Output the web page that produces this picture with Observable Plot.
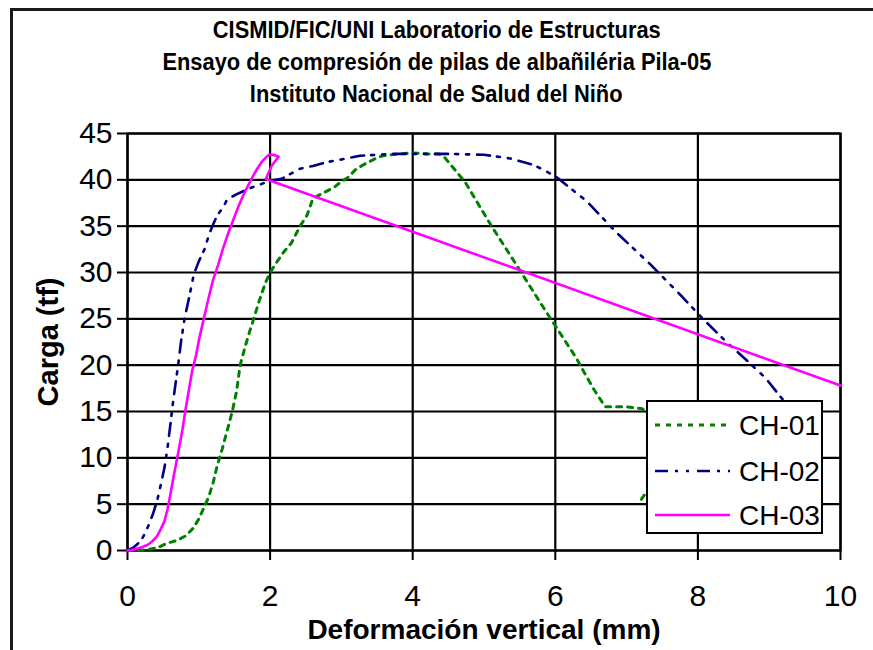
<!DOCTYPE html>
<html><head><meta charset="utf-8">
<script src="https://cdn.jsdelivr.net/npm/d3@7"></script>
<script src="https://cdn.jsdelivr.net/npm/@observablehq/plot@0.6"></script>
<style>
html,body{margin:0;padding:0;background:#fff;}
body{width:873px;height:650px;overflow:hidden;position:relative;font-family:"Liberation Sans",Arial,Helvetica,sans-serif;}
#frame{position:absolute;left:10px;top:8px;width:900px;height:700px;border:3px solid #1a1a1a;box-sizing:border-box;pointer-events:none;}
#title{height:118px;box-sizing:border-box;padding-top:14px;text-align:center;font-weight:bold;font-size:23px;line-height:32px;color:#000;}
#title span{display:inline-block;transform:scaleX(0.95);white-space:nowrap;}
#chart{position:relative;}
#legend{position:absolute;left:646px;top:400px;}
</style></head>
<body>
<div id="frame"></div>
<div id="title"><span>CISMID/FIC/UNI Laboratorio de Estructuras</span><br><span>Ensayo de compresión de pilas de albañiléria Pila-05</span><br><span>Instituto Nacional de Salud del Niño</span></div>
<div id="chart"></div>
<svg id="legend" width="177" height="134"></svg>
<script>
const seriesNames = ["CH-01", "CH-02", "CH-03"];
const seriesColors = ["#008000", "#000080", "#ff00ff"];
const xTicks = [0, 2, 4, 6, 8, 10];
const yTicks = [0, 5, 10, 15, 20, 25, 30, 35, 40, 45];
const xLabel = "Deformación vertical (mm)";
const yLabel = "Carga (tf)";

const ch01X = [0,0.15,0.28,0.42,0.56,0.7,0.82,0.92,1.0,1.07,1.14,1.2,1.26,1.33,1.4,1.47,1.53,1.58,1.65,1.72,1.77,1.85,1.93,2.0,2.1,2.2,2.3,2.42,2.52,2.6,2.75,2.9,2.98,3.1,3.21,3.35,3.48,3.58,3.7,3.81,4.0,4.2,4.37,4.45,4.74,5.09,5.44,5.86,6.3,6.37,6.54,6.7,7.0,7.22,7.38,7.45,7.38,7.24,7.16];
const ch01Y = [0,0.02,0.1,0.3,0.8,1.1,1.6,2.4,3.4,4.6,5.8,7.3,9.2,11.0,13.0,15.0,17.2,20.0,22.0,23.8,25.0,27.0,28.8,30.0,31.2,32.3,33.2,35.0,36.2,38.0,38.6,39.2,39.7,40.3,41.2,41.8,42.3,42.6,42.7,42.8,42.9,42.8,42.8,42.4,39.7,35.2,31.0,25.9,20.7,19.7,17.4,15.5,15.5,15.3,14.0,10.0,7.2,5.9,5.0];

const ch02X = [0,0.08,0.14,0.19,0.25,0.3,0.36,0.42,0.47,0.52,0.56,0.6,0.63,0.67,0.71,0.75,0.8,0.87,0.93,1.0,1.08,1.14,1.19,1.26,1.33,1.4,1.52,1.63,1.75,1.86,2.0,2.16,2.3,2.42,2.6,2.79,3.0,3.26,3.5,3.67,4.0,4.51,5.0,5.37,5.7,6.0,6.44,6.86,7.33,7.79,8.07,8.4,8.66,8.95,9.2,9.4];
const ch02Y = [0,0.3,0.7,1.1,1.9,2.8,4.0,5.5,7.2,9.0,11.0,13.5,15.5,17.8,20.0,22.5,25.0,27.5,29.8,31.2,32.5,34.0,35.0,36.2,36.9,37.9,38.4,38.8,39.2,39.5,39.9,40.1,40.7,41.2,41.5,41.9,42.2,42.6,42.7,42.8,42.8,42.8,42.7,42.3,41.6,40.4,37.7,34.3,30.9,27.3,25.0,22.5,20.7,18.6,16.2,14.0];

const ch03X = [0,0.05,0.12,0.2,0.28,0.35,0.41,0.46,0.52,0.56,0.6,0.64,0.68,0.72,0.77,0.81,0.86,0.91,0.96,1.01,1.07,1.13,1.2,1.27,1.34,1.42,1.5,1.57,1.64,1.7,1.76,1.82,1.88,1.94,1.98,2.05,2.12,2.02,1.94,10];
const ch03Y = [0,0.05,0.15,0.35,0.6,1.0,1.5,2.2,3.2,4.4,6.0,7.7,9.3,10.9,13.0,15.0,17.3,19.5,21.0,23.0,25.0,27.0,29.2,30.8,32.6,34.4,36.0,37.4,38.6,39.5,40.4,41.2,41.9,42.4,42.7,42.7,42.5,41.5,40.1,17.8];

const series = [
  {x: ch01X, y: ch01Y, dash: "5,6", width: 3},
  {x: ch02X, y: ch02Y, dash: "13,7,3,8,3,8", width: 2.6},
  {x: ch03X, y: ch03Y, dash: null, width: 2.6}
];
const rows = series.map((s, i) => s.x.map((x, j) => ({x, y: s.y[j], name: seriesNames[i]})));

const font = '"Liberation Sans",Arial,Helvetica,sans-serif';
const chart = Plot.plot({
  width: 873, height: 532,
  marginTop: 15, marginLeft: 127, marginRight: 33, marginBottom: 100,
  style: {fontFamily: font, fontSize: "30px", color: "#000", background: "transparent", overflow: "visible"},
  x: {domain: [0, 10], label: null},
  y: {domain: [0, 45], label: null},
  marks: [
    Plot.gridX(xTicks, {stroke: "#000", strokeOpacity: 1, strokeWidth: 2.2}),
    Plot.gridY(yTicks, {stroke: "#000", strokeOpacity: 1, strokeWidth: 2.2}),
    Plot.axisX(xTicks, {tickSize: 10, tickPadding: 24, stroke: "#000", strokeWidth: 2, fill: "#000", fontSize: 30, label: null}),
    Plot.axisY(yTicks, {tickSize: 10, tickPadding: 5, stroke: "#000", strokeWidth: 2, fill: "#000", fontSize: 30, label: null}),
    Plot.frame({stroke: "#000", strokeWidth: 2.2}),
    ...series.map((s, i) => Plot.line(rows[i], {x: "x", y: "y", stroke: seriesColors[i], strokeWidth: s.width, strokeDasharray: s.dash, strokeLinejoin: "round"})),
    Plot.text([xLabel], {text: d => d, frameAnchor: "bottom", dy: 80, fontSize: 28, fontWeight: "bold", fill: "#000", lineAnchor: "middle", textAnchor: "middle"}),
    Plot.text([yLabel], {text: d => d, frameAnchor: "left", dx: -79, rotate: -90, fontSize: 29, fontWeight: "bold", fill: "#000", lineAnchor: "middle", textAnchor: "middle"})
  ]
});
document.getElementById("chart").appendChild(chart);

// legend
const lg = d3.select("#legend");
lg.append("rect").attr("x", 1).attr("y", 1).attr("width", 175).attr("height", 132)
  .attr("fill", "#fff").attr("stroke", "#000").attr("stroke-width", 2);
const rowY = [25, 71, 115];
seriesNames.forEach((name, i) => {
  lg.append("line").attr("x1", 9).attr("x2", 84).attr("y1", rowY[i]).attr("y2", rowY[i])
    .attr("stroke", seriesColors[i]).attr("stroke-width", series[i].width)
    .attr("stroke-dasharray", series[i].dash);
  lg.append("text").attr("x", 93).attr("y", rowY[i]).attr("dy", "0.35em")
    .attr("font-family", font).attr("font-size", 28).attr("fill", "#000").text(name);
});
</script>
</body></html>
